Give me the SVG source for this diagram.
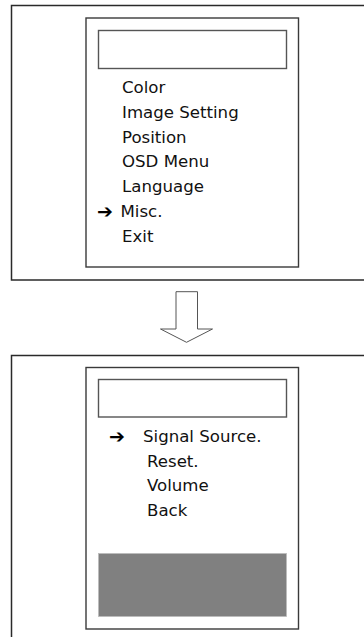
<svg xmlns="http://www.w3.org/2000/svg" width="364" height="637" viewBox="0 0 364 637">
<style>
.frame{fill:none;stroke:#2a2a2a;stroke-width:1.5}
.panel{fill:#fff;stroke:#3a3a3a;stroke-width:1.4}
.title{fill:#fff;stroke:#555;stroke-width:1.4}
.t{font-family:"DejaVu Sans","Verdana",sans-serif;font-size:16.6px;fill:#111}
.ptr{font-family:"DejaVu Sans",sans-serif;font-size:19px;font-weight:bold;fill:#000}
</style>
<rect width="364" height="637" fill="#fff"/>
<g id="screen1">
<rect class="frame" x="11.5" y="5.5" width="360" height="274.5"/>
<rect class="panel" x="86" y="18" width="212.5" height="249"/>
<rect class="title" x="98.5" y="30.5" width="188" height="38"/>
<text class="t" x="122" y="93">Color</text>
<text class="t" x="122" y="117.8">Image Setting</text>
<text class="t" x="122" y="142.6">Position</text>
<text class="t" x="122" y="167.4">OSD Menu</text>
<text class="t" x="122" y="192.2">Language</text>
<text class="ptr" x="97" y="218">➔</text>
<text class="t" x="120.5" y="217">Misc.</text>
<text class="t" x="122" y="241.8">Exit</text>
</g>
<g id="connectors">
<path d="M176,291.7 H197.5 V329 H212.5 L186.5,342.3 L160.5,329 H176 Z" fill="#fff" stroke="#555" stroke-width="1"/>
</g>
<g id="screen2">
<rect class="frame" x="11.5" y="355.5" width="360" height="290"/>
<rect class="panel" x="86" y="367.5" width="212.5" height="261.5"/>
<rect class="title" x="98.5" y="379.5" width="188" height="37.5"/>
<text class="ptr" x="109" y="442.7">➔</text>
<text class="t" x="143" y="441.7">Signal Source.</text>
<text class="t" x="147" y="466.5">Reset.</text>
<text class="t" x="147" y="491.3">Volume</text>
<text class="t" x="147" y="516.1">Back</text>
<rect x="98.5" y="553.5" width="188" height="63" fill="#808080" stroke="#bbb" stroke-width="0.8"/>
</g>
</svg>
